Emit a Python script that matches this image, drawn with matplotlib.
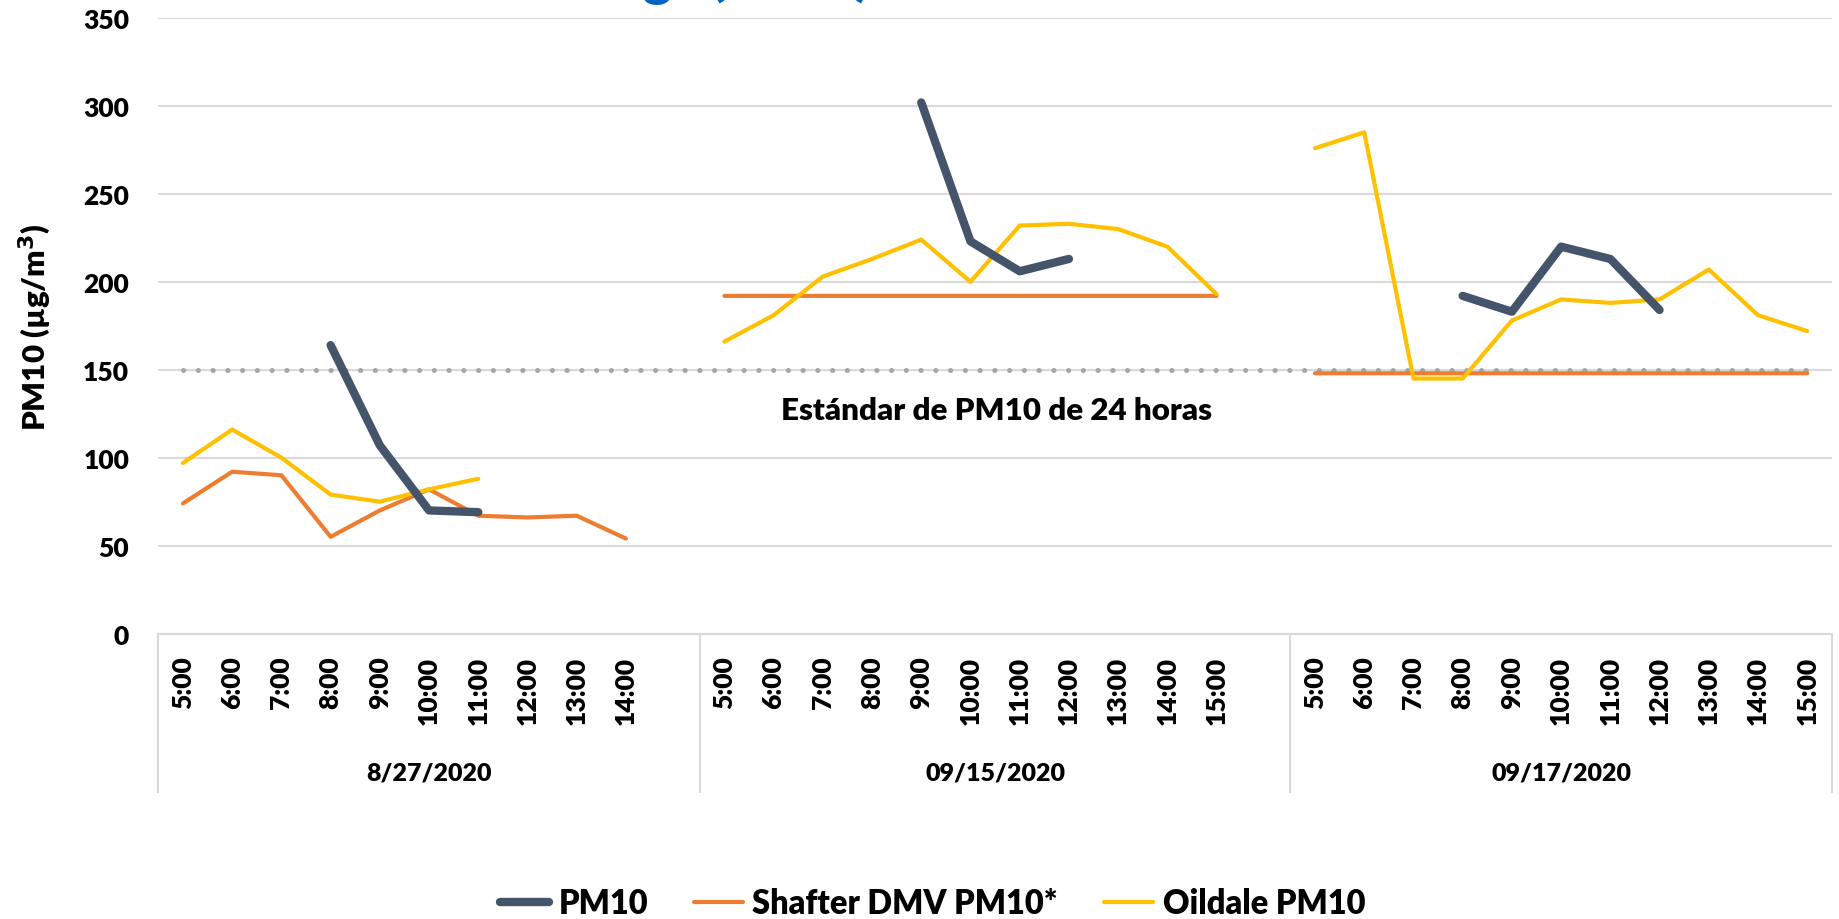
import numpy as np
import matplotlib.pyplot as plt

plt.rcParams['font.family'] = ['Lato', 'DejaVu Sans']
plt.rcParams['font.weight'] = 'heavy'

# categories (blank slot separates each day)
dates = ['8/27/2020', '09/15/2020', '09/17/2020']
hours_0827 = ['5:00', '6:00', '7:00', '8:00', '9:00', '10:00', '11:00', '12:00', '13:00', '14:00', '']
hours_0915 = ['5:00', '6:00', '7:00', '8:00', '9:00', '10:00', '11:00', '12:00', '13:00', '14:00', '15:00', '']
hours_0917 = ['5:00', '6:00', '7:00', '8:00', '9:00', '10:00', '11:00', '12:00', '13:00', '14:00', '15:00']

# PM10 (temporary monitor)
pm10_0827 = [None, None, None, 164, 107, 70, 69, None, None, None, None]
pm10_0915 = [None, None, None, None, 302, 223, 206, 213, None, None, None, None]
pm10_0917 = [None, None, None, 192, 183, 220, 213, 184, None, None, None]

# Shafter DMV PM10*
shafter_0827 = [74, 92, 90, 55, 70, 82, 67, 66, 67, 54, None]
shafter_0915 = [192, 192, 192, 192, 192, 192, 192, 192, 192, 192, 192, None]
shafter_0917 = [148, 148, 148, 148, 148, 148, 148, 148, 148, 148, 148]

# Oildale PM10
oildale_0827 = [97, 116, 100, 79, 75, 82, 88, None, None, None, None]
oildale_0915 = [166, 181, 203, 213, 224, 200, 232, 233, 230, 220, 193, None]
oildale_0917 = [276, 285, 145, 145, 178, 190, 188, 190, 207, 181, 172]

standard = 150
title = 'Concentraciones de PM10 en el sitio Kings (2020)'

def to_arr(*parts):
    vals = []
    for p in parts:
        vals += p
    return np.array([np.nan if v is None else v for v in vals], dtype=float)

hours = hours_0827 + hours_0915 + hours_0917
pm10 = to_arr(pm10_0827, pm10_0915, pm10_0917)
shafter = to_arr(shafter_0827, shafter_0915, shafter_0917)
oildale = to_arr(oildale_0827, oildale_0915, oildale_0917)
group_sizes = [len(hours_0827), len(hours_0915), len(hours_0917)]
n = len(hours)
x = np.arange(n)

fig = plt.figure(figsize=(18.39, 9.2), dpi=100)
ax = fig.add_axes([0.0861, 0.3103, 0.910, 0.669])

ax.plot(x, np.full(n, standard), color='#A6A6A6', lw=3.6, ls=(0, (0.05, 2.9)),
        dash_capstyle='round', zorder=2)
ax.plot(x, pm10, color='#44546A', lw=6, solid_capstyle='round', zorder=5, label='PM10')
ax.plot(x, shafter, color='#ED7D31', lw=3, solid_capstyle='round', zorder=3,
        label='Shafter DMV PM10*')
ax.plot(x, oildale, color='#FFC000', lw=3, solid_capstyle='round', zorder=4,
        label='Oildale PM10')

ax.text(16.52, 127, 'Estándar de PM10 de 24 horas', ha='center', va='center',
        fontsize=22.5, fontweight='heavy')

ax.set_xlim(-0.5, n - 0.5)
ax.set_ylim(0, 350)
ax.set_yticks(np.arange(0, 351, 50))
ax.yaxis.grid(True, color='#D9D9D9', lw=1.5)
ax.set_axisbelow(True)
ax.tick_params(axis='y', length=0, labelsize=19, pad=21)
ax.set_xticks(x)
ax.set_xticklabels(hours, rotation=90, fontsize=19, va='top')
ax.tick_params(axis='x', length=0, pad=16)
for s in ['top', 'right', 'left']:
    ax.spines[s].set_visible(False)
ax.spines['bottom'].set_color('#D9D9D9')
ax.spines['bottom'].set_linewidth(1.5)
ax.set_ylabel('PM10 (µg/m$^3$)', fontsize=22.5, fontweight='heavy', labelpad=22)

# day separators and day labels below the axis
edges = np.concatenate([[0], np.cumsum(group_sizes)]) - 0.5
for e in edges:
    ax.plot([e, e], [0, -0.258], transform=ax.get_xaxis_transform(), color='#D9D9D9',
            lw=1.5, clip_on=False)
for i, d in enumerate(dates):
    ax.text((edges[i] + edges[i + 1]) / 2, -0.225, d, transform=ax.get_xaxis_transform(),
            ha='center', va='center', fontsize=18, fontweight='heavy')

# chart title, cropped at the top of the picture (only the descenders show)
renderer = fig.canvas.get_renderer()
tmp = fig.text(0, 0, title[:title.index('g')], fontsize=40, fontweight='heavy')
w = tmp.get_window_extent(renderer).width
tmp.remove()
fig.text((643 - w) / 1839, 1.007, title, ha='left', va='baseline', fontsize=40,
         color='#0563C1', fontweight='heavy')

fig.legend(loc='center', bbox_to_anchor=(0.507, 0.017), ncol=3, frameon=False,
           fontsize=23.5, handlelength=1.5, columnspacing=1.4, handletextpad=0.3)

fig.savefig('out.png')
